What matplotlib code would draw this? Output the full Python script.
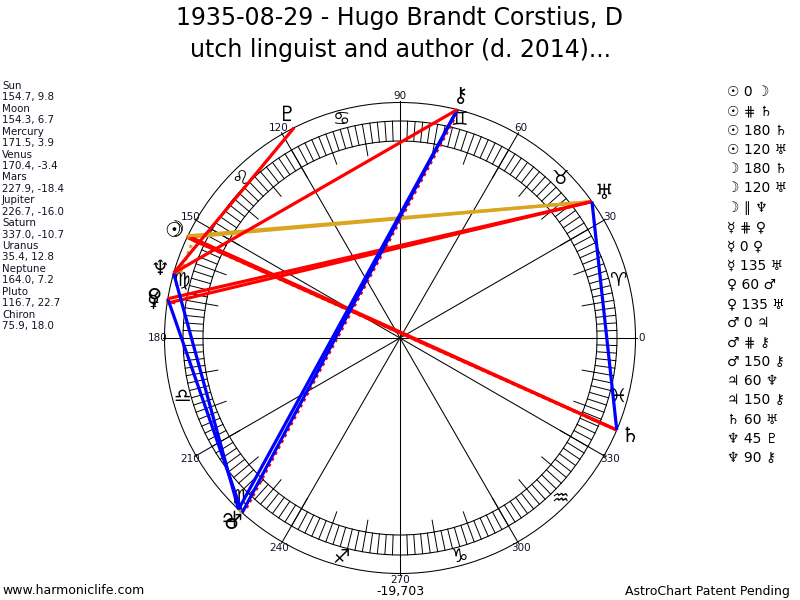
import numpy as np
import matplotlib
matplotlib.use('Agg')
import matplotlib.pyplot as plt
from matplotlib.patches import Circle

plt.rcParams['font.family'] = ['DejaVu Sans']

# ---------------- data ----------------
title_text = "1935-08-29 - Hugo Brandt Corstius, D\nutch linguist and author (d. 2014)..."
planet_names = ['Sun', 'Moon', 'Mercury', 'Venus', 'Mars', 'Jupiter',
                'Saturn', 'Uranus', 'Neptune', 'Pluto', 'Chiron']
longitudes = [154.7, 154.3, 171.5, 170.4, 227.9, 226.7, 337.0, 35.4, 164.0, 116.7, 75.9]
declinations = [9.8, 6.7, 3.9, -3.4, -18.4, -16.0, -10.7, 12.8, 7.2, 22.7, 18.0]
planet_glyphs = ['☉', '☽', '☿', '♀', '♂', '♃', '♄', '♅', '♆', '♇', '⚷']
sign_glyphs = ['♈', '♉', '♊', '♋', '♌', '♍', '♎', '♏', '♐', '♑', '♒', '♓']
degree_labels = ['0', '30', '60', '90', '120', '150', '180', '210', '240', '270', '300', '330']

aspect_p1 = ['Sun', 'Sun', 'Sun', 'Sun', 'Moon', 'Moon', 'Moon', 'Mercury', 'Mercury', 'Mercury',
             'Venus', 'Venus', 'Mars', 'Mars', 'Mars', 'Jupiter', 'Jupiter', 'Saturn', 'Neptune', 'Neptune']
aspect_type = ['0', '#', '180', '120', '180', '120', '||', '#', '0', '135',
               '60', '135', '0', '#', '150', '60', '150', '60', '45', '90']
aspect_p2 = ['Moon', 'Saturn', 'Saturn', 'Uranus', 'Saturn', 'Uranus', 'Neptune', 'Venus', 'Venus', 'Uranus',
             'Mars', 'Uranus', 'Jupiter', 'Chiron', 'Chiron', 'Neptune', 'Chiron', 'Uranus', 'Pluto', 'Chiron']

footer_left = "www.harmoniclife.com"
footer_center = "-19,703"
footer_right = "AstroChart Patent Pending"

# ---------------- styles ----------------
aspect_colors = {'0': '#daa520', '180': '#ff0000', '90': '#ff0000', '45': '#ff0000',
                 '135': '#ff0000', '120': '#daa520', '60': '#0000ff', '150': '#0000ff',
                 '#': '#ff0000', '||': '#daa520'}
aspect_symbols = {'#': '⋕', '||': '∥'}
text_color = '#101028'

fig = plt.figure(figsize=(8, 6), dpi=100)
ax = fig.add_axes([0, 0, 1, 1])
ax.set_xlim(0, 800)
ax.set_ylim(600, 0)
ax.axis('off')

CX, CY = 400.0, 338.0
R_OUT, R_BAND_O, R_BAND_I, R_TICK = 235.5, 217.0, 197.0, 185.0


def pt(lon, r):
    a = np.radians(lon)
    return CX + r * np.cos(a), CY - r * np.sin(a)


# circles
for r in (R_OUT, R_BAND_O, R_BAND_I):
    ax.add_patch(Circle((CX, CY), r, fill=False, lw=0.75, ec='black', zorder=2))

# band ticks every 2 degrees
for d in range(0, 360, 2):
    x0, y0 = pt(d, R_BAND_I)
    x1, y1 = pt(d, R_BAND_O)
    ax.plot([x0, x1], [y0, y1], color='black', lw=0.7, zorder=2)
# inner ticks every 10 degrees
for d in range(0, 360, 10):
    x0, y0 = pt(d, R_TICK)
    x1, y1 = pt(d, R_BAND_I)
    ax.plot([x0, x1], [y0, y1], color='black', lw=0.7, zorder=2)
# spokes every 30 degrees
for i, lab in enumerate(degree_labels):
    d = 30 * i
    x1, y1 = pt(d, R_OUT + 1.5)
    ax.plot([CX, x1], [CY, y1], color='black', lw=0.75, zorder=2)
    xl, yl = pt(d, 242)
    ax.text(xl, yl, lab, fontsize=7.5, color=text_color, ha='center', va='center', zorder=3)

# zodiac signs
for i, g in enumerate(sign_glyphs):
    xs, ys = pt(15 + 30 * i, 226)
    ax.text(xs, ys, g, fontsize=14, color='black', ha='center', va='center', zorder=3)

# aspect lines
lon_of = dict(zip(planet_names, longitudes))
for p1, t, p2 in zip(aspect_p1, aspect_type, aspect_p2):
    col = aspect_colors[t]
    if t in ('#', '||'):
        x0, y0 = pt(lon_of[p1], 229)
        x1, y1 = pt(lon_of[p2], 229)
        ax.plot([x0, x1], [y0, y1], color=col, lw=2.2, ls=(0, (1, 1.2)), zorder=4)
    else:
        x0, y0 = pt(lon_of[p1], R_OUT)
        x1, y1 = pt(lon_of[p2], R_OUT)
        ax.plot([x0, x1], [y0, y1], color=col, lw=2.3, solid_capstyle='butt', zorder=5)

# planet glyphs
for lon, g in zip(longitudes, planet_glyphs):
    xp, yp = pt(lon, 250)
    ax.text(xp, yp, g, fontsize=15, color='black', ha='center', va='center', zorder=6)

# title
ax.text(400, 34, title_text, fontsize=17, ha='center', va='center', color='black',
        linespacing=1.45)

# left position list
left_lines = []
for n, lon, dec in zip(planet_names, longitudes, declinations):
    left_lines.append(n)
    left_lines.append(f"{lon:.1f}, {dec:.1f}")
for i, s in enumerate(left_lines):
    ax.text(2, 86 + i * 11.43, s, fontsize=7.4, color=text_color, ha='left', va='center')

# right aspect list
glyph_of = dict(zip(planet_names, planet_glyphs))
for i, (p1, t, p2) in enumerate(zip(aspect_p1, aspect_type, aspect_p2)):
    sym = aspect_symbols.get(t, t)
    s = f"{glyph_of[p1]} {sym} {glyph_of[p2]}"
    ax.text(727, 92 + i * 19.27, s, fontsize=10, color='black', ha='left', va='center')

# footers
ax.text(2, 591, footer_left, fontsize=9, color='black', ha='left', va='center')
ax.text(400, 592, footer_center, fontsize=9, color='black', ha='center', va='center')
ax.text(790, 591, footer_right, fontsize=9, color='black', ha='right', va='center')

fig.savefig('out.png', dpi=100)
